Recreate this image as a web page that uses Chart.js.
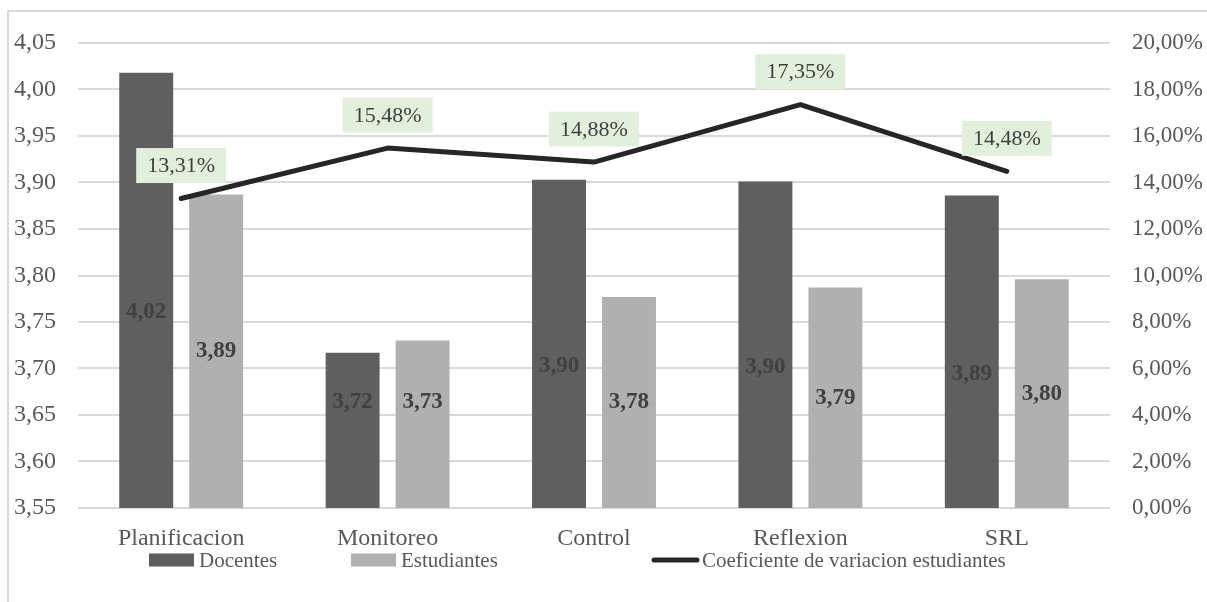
<!DOCTYPE html>
<html>
<head>
<meta charset="utf-8">
<script src="https://cdn.jsdelivr.net/npm/chart.js@4.4.1/dist/chart.umd.min.js"></script>
<style>
  body { margin: 0; background: #fff; overflow: hidden; }
  #wrap { position: relative; width: 1207px; height: 602px; }
  #frame { position: absolute; left: 7px; top: 10px; width: 1300px; height: 700px; border: 2px solid #d9d9d9; }
  #chart { position: absolute; left: 0; top: 0; }
</style>
</head>
<body>
<div id="wrap">
  <div id="frame"></div>
  <canvas id="chart" width="1207" height="602"></canvas>
</div>
<script>
// ===== Data =====
const categories = ['Planificacion', 'Monitoreo', 'Control', 'Reflexion', 'SRL'];
const docentes = [4.018, 3.717, 3.903, 3.901, 3.886];
const estudiantes = [3.887, 3.730, 3.777, 3.787, 3.796];
const coefVariacion = [0.1331, 0.1548, 0.1488, 0.1735, 0.1448];
const seriesNames = ['Docentes', 'Estudiantes', 'Coeficiente de variacion estudiantes'];

const FONT = "'Liberation Serif', 'Times New Roman', serif";
const TEXT = '#595959';

const fmtNum = v => v.toFixed(2).replace('.', ',');
const fmtPct = v => (v * 100).toFixed(2).replace('.', ',') + '%';

// ===== Labels + legend drawn on canvas =====
const labelsPlugin = {
  id: 'labelsPlugin',
  afterDatasetsDraw(chart) {
    const ctx = chart.ctx;
    const yScale = chart.scales.y;
    const base = yScale.getPixelForValue(yScale.min);
    ctx.save();
    ctx.textAlign = 'center';
    ctx.textBaseline = 'middle';

    // bar value labels (middle of bar, never too close to the base)
    ctx.font = 'bold 23px ' + FONT;
    ctx.fillStyle = '#404040';
    [0, 1].forEach(di => {
      const meta = chart.getDatasetMeta(di);
      const vals = chart.data.datasets[di].data;
      meta.data.forEach((bar, i) => {
        const top = yScale.getPixelForValue(vals[i]);
        let mid = (top + base) / 2 + (di === 0 ? 22 : 0);
        mid = Math.min(mid, base - 106);
        ctx.fillText(fmtNum(vals[i]), bar.x, mid);
      });
    });

    // line labels with green boxes
    const lineMeta = chart.getDatasetMeta(2);
    ctx.font = '22px ' + FONT;
    lineMeta.data.forEach((pt, i) => {
      const cy = pt.y - 33;
      ctx.fillStyle = '#e2efda';
      ctx.fillRect(pt.x - 45, cy - 17.5, 90, 35);
      ctx.fillStyle = '#404040';
      ctx.fillText(fmtPct(coefVariacion[i]), pt.x, cy + 1);
    });
    ctx.restore();
  },
  afterDraw(chart) {
    const ctx = chart.ctx;
    const starts = [149, 351, 651];
    const y = 560;
    ctx.save();
    ctx.font = '21px ' + FONT;
    ctx.textBaseline = 'middle';
    ctx.textAlign = 'left';
    chart.data.datasets.forEach((ds, i) => {
      let x = starts[i];
      if (ds.type === 'line') {
        ctx.strokeStyle = ds.borderColor;
        ctx.lineWidth = 5;
        ctx.lineCap = 'round';
        ctx.beginPath();
        ctx.moveTo(x + 3, y);
        ctx.lineTo(x + 46, y);
        ctx.stroke();
        x += 51;
      } else {
        ctx.fillStyle = ds.backgroundColor;
        ctx.fillRect(x, y - 6.5, 45, 13);
        x += 50;
      }
      ctx.fillStyle = TEXT;
      ctx.fillText(ds.label, x, y + 1);
    });
    ctx.restore();
  }
};

// ===== Chart =====
const chart = new Chart(document.getElementById('chart'), {
  type: 'bar',
  data: {
    labels: categories,
    datasets: [
      {
        label: seriesNames[0],
        data: docentes,
        backgroundColor: '#5f5f5f',
        yAxisID: 'y',
        order: 1,
        categoryPercentage: 0.678,
        barPercentage: 0.771
      },
      {
        label: seriesNames[1],
        data: estudiantes,
        backgroundColor: '#b0b0b0',
        yAxisID: 'y',
        order: 1,
        categoryPercentage: 0.678,
        barPercentage: 0.771
      },
      {
        type: 'line',
        label: seriesNames[2],
        data: coefVariacion,
        borderColor: '#262626',
        backgroundColor: '#262626',
        borderWidth: 5,
        borderCapStyle: 'round',
        borderJoinStyle: 'round',
        pointRadius: 0,
        tension: 0,
        yAxisID: 'y1',
        order: 0
      }
    ]
  },
  options: {
    responsive: false,
    animation: false,
    layout: { padding: { top: 43, left: 0, right: 0, bottom: 0 } },
    plugins: {
      legend: { display: false },
      tooltip: { enabled: false }
    },
    scales: {
      x: {
        grid: { display: false, drawTicks: false },
        border: { display: false },
        ticks: { color: TEXT, font: { family: FONT, size: 24 }, padding: 16 },
        afterFit: s => { s.height = 94; }
      },
      y: {
        position: 'left',
        min: 3.55,
        max: 4.05,
        ticks: { stepSize: 0.05, color: TEXT, font: { family: FONT, size: 24 }, padding: 22, callback: v => fmtNum(v) },
        grid: { color: '#d9d9d9', lineWidth: 2, drawTicks: false },
        border: { display: false },
        afterFit: s => { s.width = 78; }
      },
      y1: {
        position: 'right',
        min: 0,
        max: 0.2,
        ticks: { stepSize: 0.02, color: TEXT, font: { family: FONT, size: 23 }, padding: 22, callback: v => fmtPct(v) },
        grid: { display: false, drawTicks: false },
        border: { display: false },
        afterFit: s => { s.width = 97; }
      }
    }
  },
  plugins: [labelsPlugin]
});
</script>
</body>
</html>
